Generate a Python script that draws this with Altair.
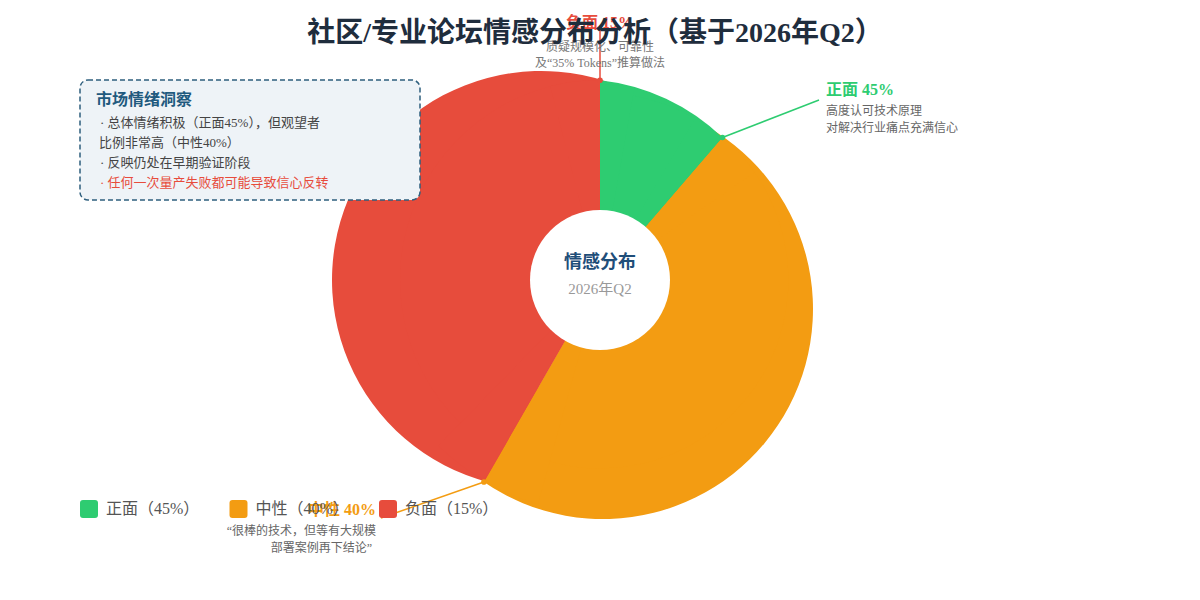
import math
import altair as alt
import pandas as pd

# ---------------- data ----------------
categories = ["正面", "中性", "负面"]
stated_pct = [45, 40, 15]                 # percentages printed on the chart
drawn_share = [11.3, 47.0, 41.7]          # share of the circle each slice covers in the picture
legend_labels = ["正面（45%）", "中性（40%）", "负面（15%）"]
slice_colors = ["#2ecc71", "#f39c12", "#e74c3c"]

title_text = "社区/专业论坛情感分布分析（基于2026年Q2）"
center_title = "情感分布"
center_sub = "2026年Q2"
callout_heads = [f"{c} {p}%" for c, p in zip(categories, stated_pct)]
callout_notes = [
    ["高度认可技术原理", "对解决行业痛点充满信心"],
    ["“很棒的技术，但等有大规模", "部署案例再下结论”"],
    ["质疑规模化、可靠性", "及“35% Tokens”推算做法"],
]
insight_title = "市场情绪洞察"
insight_lines = [
    "·  总体情绪积极（正面45%），但观望者",
    "比例非常高（中性40%）",
    "·  反映仍处在早期验证阶段",
    "·  任何一次量产失败都可能导致信心反转",
]

# ---------------- layout / style ----------------
FONT = "Liberation Serif, Noto Sans CJK SC, sans-serif"
M = 8  # page margin


def px(v):
    return v - M


TAU = 2 * math.pi
PIE = (600.0, 280.0)      # pie centre (page px)
HOLE_R = 70
# each slice's rim is an arc of its own circle (centre, radius)
OUTER = [((577.0, 289.0), 210.0), ((603.0, 309.0), 210.0), ((541.0, 280.0), 209.0)]


def edge_pt(theta, rho):
    return (PIE[0] + rho * math.sin(theta), PIE[1] - rho * math.cos(theta))


def reach(theta, C, r):
    ux, uy = math.sin(theta), -math.cos(theta)
    dx, dy = PIE[0] - C[0], PIE[1] - C[1]
    b = dx * ux + dy * uy
    c = dx * dx + dy * dy - r * r
    return -b + math.sqrt(b * b - c)


def bearing(C, Q):
    a = math.atan2(Q[0] - C[0], -(Q[1] - C[1]))
    return a if a >= 0 else a + TAU


def pct(a):
    return a / TAU * 100


def rad(p):
    return p / 100 * TAU


def min_reach(a_pct, b_pct, C, r, n=200):
    return min(reach(rad(a_pct + (b_pct - a_pct) * k / n), C, r) for k in range(n + 1)) - 0.5


bounds = [0.0]
for s in drawn_share:
    bounds.append(bounds[-1] + s)
th = [rad(b) for b in bounds]

# wedges around the pie centre: a core for each slice plus a piece at each of its edges
wedges = []   # (slice index, start pct, end pct, radius)
for i in range(3):
    C, r = OUTER[i]
    wedges.append((i, bounds[i], bounds[i + 1], min_reach(bounds[i], bounds[i + 1], C, r)))
edge_r = {}
for i in range(3):
    C, r = OUTER[i]
    w = min(4.0, drawn_share[i] / 4)
    a0, a1 = bounds[i], bounds[i] + w
    b0, b1 = bounds[i + 1] - w, bounds[i + 1]
    ra, rb = min_reach(a0, a1, C, r), min_reach(b0, b1, C, r)
    edge_r[(i, "start")], edge_r[(i, "end")] = ra, rb
    wedges.append((i, a0, a1, ra))
    wedges.append((i, b0, b1, rb))

(Cg, rg), (Co, ro), (Cr, rr) = OUTER
mid1 = (edge_r[(0, "start")] + reach(th[0], Cg, rg)) / 2
mid2 = (edge_r[(0, "end")] + reach(th[1], Cg, rg)) / 2
mid3 = (edge_r[(1, "end")] + reach(th[2], Co, ro)) / 2
e1, e2, e3 = edge_pt(0, mid1), edge_pt(th[1], mid2), edge_pt(th[2], mid3)
MARGIN = 4.0
outer_ranges = [
    (pct(bearing(Cg, e1)), pct(bearing(Cg, e2))),
    (pct(bearing(Co, e2)) - MARGIN, pct(bearing(Co, e3))),
    (pct(bearing(Cr, e3)) - MARGIN, pct(bearing(Cr, e1)) + 100 + MARGIN),
]

K_top = edge_pt(0, reach(0, Cg, rg))
K_right = edge_pt(th[1], reach(th[1], Cg, rg))
K_low = edge_pt(th[2], reach(th[2], Co, ro))

theta_scale = alt.Scale(domain=[0, 100], range=[0, TAU], clamp=False, nice=False, zero=False)
color_scale = alt.Scale(domain=legend_labels, range=slice_colors)
ROUNDED = "M-0.67,-1H0.67Q1,-1,1,-0.67V0.67Q1,1,0.67,1H-0.67Q-1,1,-1,0.67V-0.67Q-1,-1,-0.67,-1Z"

legend = alt.Legend(
    orient="none", legendX=px(80), legendY=px(500), direction="horizontal",
    title=None, symbolType=ROUNDED, symbolSize=324, symbolStrokeWidth=0,
    symbolOpacity=1, labelFont=FONT, labelFontSize=16, labelColor="#555555",
    labelOffset=8, columnPadding=29.5, padding=0,
)
color_enc = alt.Color("legend:N", scale=color_scale, legend=legend)

dummy = pd.DataFrame({"k": [0]})
layers = []

# rim arcs (drawn first, red -> orange -> green)
for i in [2, 1, 0]:
    C, r = OUTER[i]
    df = pd.DataFrame({"legend": [legend_labels[i]],
                       "b_start": [outer_ranges[i][0]], "b_end": [outer_ranges[i][1]]})
    layers.append(
        alt.Chart(df).mark_arc(radius=r).encode(
            x=alt.value(px(C[0])), y=alt.value(px(C[1])),
            theta=alt.Theta("b_start:Q", scale=theta_scale, stack=None),
            theta2="b_end:Q",
            color=color_enc,
        )
    )

# wedges around the pie centre, angles from the data
for i, a, b, r in wedges:
    df = pd.DataFrame({"legend": [legend_labels[i]], "cat": [categories[i]],
                       "start": [a], "end": [b]})
    layers.append(
        alt.Chart(df).mark_arc(radius=r).encode(
            x=alt.value(px(PIE[0])), y=alt.value(px(PIE[1])),
            theta=alt.Theta("start:Q", scale=theta_scale, stack=None),
            theta2="end:Q",
            color=color_enc,
        )
    )

# hole (Vega circle symbols: radius = sqrt(size) / 2)
layers.append(
    alt.Chart(dummy).mark_circle(size=(2 * HOLE_R) ** 2, color="white", opacity=1).encode(
        x=alt.value(px(PIE[0])), y=alt.value(px(PIE[1]))
    )
)


def label(s, x, y, size, color, weight="normal", align="left"):
    return alt.Chart(pd.DataFrame({"t": [s]})).mark_text(
        align=align, baseline="middle", font=FONT, fontSize=size,
        fontWeight=weight, color=color,
    ).encode(x=alt.value(px(x)), y=alt.value(px(y)), text="t:N")


def rule(a, b, color):
    return alt.Chart(dummy).mark_rule(color=color, strokeWidth=1.5).encode(
        x=alt.value(px(a[0])), y=alt.value(px(a[1])),
        x2=alt.value(px(b[0])), y2=alt.value(px(b[1])),
    )


def dot(a, color):
    return alt.Chart(dummy).mark_circle(size=(2 * 2.8) ** 2, color=color, opacity=1).encode(
        x=alt.value(px(a[0])), y=alt.value(px(a[1]))
    )


# centre text
layers.append(label(center_title, 600, 263, 18, "#1f4e79", "bold", "center"))
layers.append(label(center_sub, 600, 289, 15, "#999999", "normal", "center"))

# leader lines
layers.append(rule(K_top, (600, 28), slice_colors[2]))
layers.append(rule(K_right, (819, 100), slice_colors[0]))
layers.append(rule(K_low, (381, 518), slice_colors[1]))
layers.append(dot(K_top, slice_colors[2]))
layers.append(dot(K_right, slice_colors[0]))
layers.append(dot(K_low, slice_colors[1]))

# call-outs
layers.append(label(callout_heads[0], 826, 90, 16, slice_colors[0], "bold", "left"))
layers.append(label(callout_notes[0][0], 826, 111, 12, "#666666", "normal", "left"))
layers.append(label(callout_notes[0][1], 826, 128, 12, "#666666", "normal", "left"))

layers.append(label(callout_heads[1], 376, 510, 16, slice_colors[1], "bold", "right"))
layers.append(label(callout_notes[1][0], 376, 531, 12, "#666666", "normal", "right"))
layers.append(label(callout_notes[1][1], 372, 548, 12, "#666666", "normal", "right"))

layers.append(label(callout_heads[2], 600, 23, 16, slice_colors[2], "bold", "center"))
layers.append(label(callout_notes[2][0], 600, 47, 12, "#777777", "normal", "center"))
layers.append(label(callout_notes[2][1], 600, 63, 12, "#777777", "normal", "center"))

# insight box
layers.append(
    alt.Chart(dummy).mark_rect(
        cornerRadius=8, fill="#eef3f7", stroke="#2e5f7e", strokeDash=[5, 3], strokeWidth=1.5
    ).encode(
        x=alt.value(px(80)), x2=alt.value(px(420)), y=alt.value(px(80)), y2=alt.value(px(200))
    )
)
layers.append(label(insight_title, 96, 100, 16, "#1f5a7e", "bold", "left"))
layers.append(label(insight_lines[0], 100, 123, 13, "#444444"))
layers.append(label(insight_lines[1], 99, 143, 13, "#444444"))
layers.append(label(insight_lines[2], 100, 163, 13, "#444444"))
layers.append(label(insight_lines[3], 100, 183, 13, "#e74c3c"))

# title
layers.append(label(title_text, 595, 34, 28, "#1f2d3d", "bold", "center"))

chart = alt.layer(*layers).properties(
    width=1184, height=584, padding=0,
    autosize=alt.AutoSizeParams(type="none"),
).configure_view(stroke=None)

chart.save("out.html", embed_options={"renderer": "svg", "actions": False})
